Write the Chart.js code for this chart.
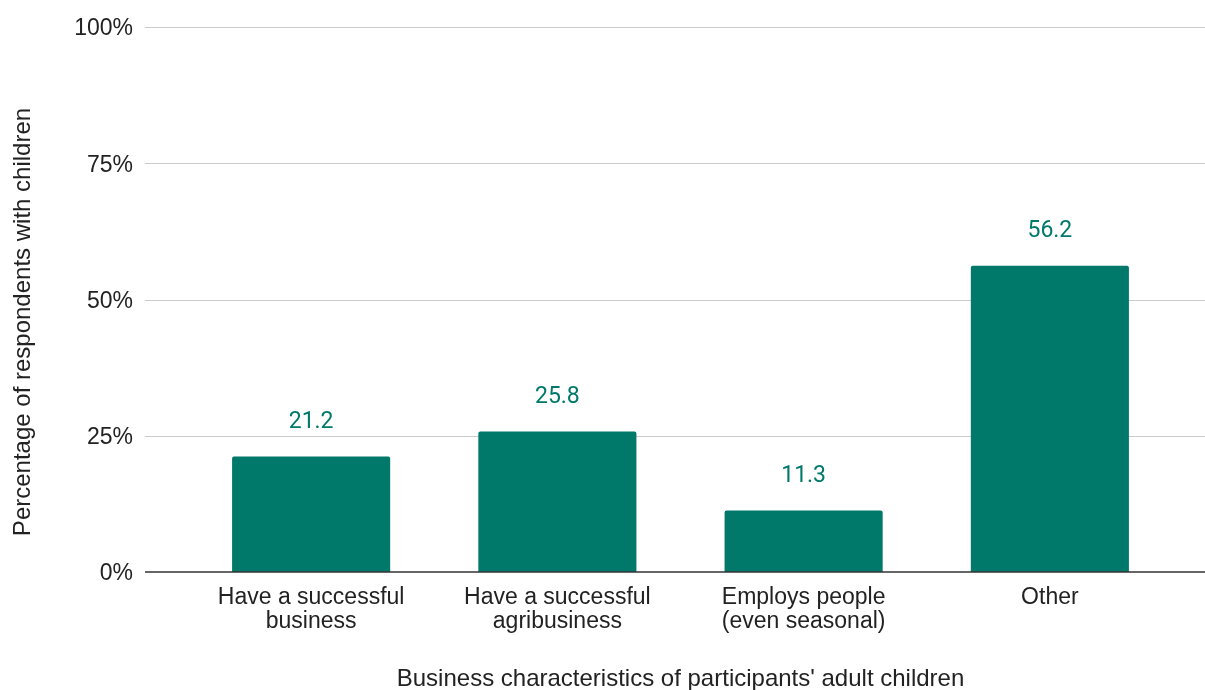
<!DOCTYPE html>
<html>
<head>
<meta charset="utf-8">
<script src="https://cdn.jsdelivr.net/npm/chart.js@4"></script>
<style>
  html, body { margin: 0; padding: 0; background: #fff; }
  canvas { display: block; }
</style>
</head>
<body>
<canvas id="chart" width="1205" height="690"></canvas>
<script>
// Business characteristics of respondents' adult children (% of respondents with children)
const categories = [
  ["Have a successful", "business"],
  ["Have a successful", "agribusiness"],
  ["Employs people", "(even seasonal)"],
  ["Other"]
];
const shares = [21.2, 25.8, 11.3, 56.2];
const yTickValues = [0, 25, 50, 75, 100];
const yAxisTitle = "Percentage of respondents with children";
const xAxisTitle = "Business characteristics of participants' adult children";

const TEAL = "#00796B";
const TEXT = "#222222";
const SANS = "'Liberation Sans', Arial, sans-serif";
const GRID_LEFT = 145;

// Horizontal gridlines spanning the full plot width, plus the darker baseline
const gridPlugin = {
  id: "wideGrid",
  beforeDatasetsDraw(chart) {
    const { ctx, scales: { y } } = chart;
    ctx.save();
    ctx.strokeStyle = "#cccccc";
    ctx.lineWidth = 1;
    yTickValues.forEach(v => {
      if (v === 0) return;
      const py = Math.round(y.getPixelForValue(v)) + 0.5;
      ctx.beginPath();
      ctx.moveTo(GRID_LEFT, py);
      ctx.lineTo(chart.width, py);
      ctx.stroke();
    });
    ctx.restore();
  },
  afterDatasetsDraw(chart) {
    const { ctx, scales: { y } } = chart;
    const py = y.getPixelForValue(0);
    ctx.save();
    ctx.strokeStyle = "#333333";
    ctx.lineWidth = 1.5;
    ctx.beginPath();
    ctx.moveTo(GRID_LEFT, py);
    ctx.lineTo(chart.width, py);
    ctx.stroke();
    ctx.restore();
  }
};

// Vertical axis title, centred a little below the middle of the plot
const yTitlePlugin = {
  id: "yTitle",
  afterDraw(chart) {
    const { ctx } = chart;
    ctx.save();
    ctx.translate(23, 322);
    ctx.rotate(-Math.PI / 2);
    ctx.fillStyle = TEXT;
    ctx.font = "24px " + SANS;
    ctx.textAlign = "center";
    ctx.textBaseline = "middle";
    ctx.fillText(yAxisTitle, 0, 0);
    ctx.restore();
  }
};

// Value labels above each bar
const valueLabels = {
  id: "valueLabels",
  afterDatasetsDraw(chart) {
    const { ctx } = chart;
    const meta = chart.getDatasetMeta(0);
    ctx.save();
    ctx.fillStyle = TEAL;
    ctx.font = "23px Roboto";
    ctx.textAlign = "center";
    ctx.textBaseline = "middle";
    meta.data.forEach((bar, i) => {
      ctx.fillText(shares[i].toFixed(1), bar.x, bar.y - 34);
    });
    ctx.restore();
  }
};

new Chart(document.getElementById("chart"), {
  type: "bar",
  data: {
    labels: categories,
    datasets: [{
      data: shares,
      backgroundColor: TEAL,
      borderRadius: { topLeft: 2, topRight: 2, bottomLeft: 0, bottomRight: 0 },
      borderSkipped: "start",
      categoryPercentage: 1,
      barPercentage: 0.642
    }]
  },
  options: {
    responsive: false,
    animation: false,
    layout: { padding: { top: 27, right: 32, bottom: 0, left: 0 } },
    plugins: {
      legend: { display: false },
      tooltip: { enabled: false }
    },
    scales: {
      x: {
        grid: { display: false, drawTicks: false },
        border: { display: false },
        ticks: {
          color: TEXT,
          font: { family: SANS, size: 23, lineHeight: 1.03 },
          padding: 14,
          maxRotation: 0,
          autoSkip: false
        },
        title: {
          display: true,
          text: xAxisTitle,
          color: TEXT,
          font: { family: SANS, size: 24, lineHeight: 1 },
          padding: { top: 0, bottom: -1 }
        },
        afterFit(scale) { scale.height = 118; }
      },
      y: {
        min: 0,
        max: 100,
        afterBuildTicks(scale) { scale.ticks = yTickValues.map(v => ({ value: v })); },
        grid: { display: false, drawTicks: false },
        border: { display: false },
        ticks: {
          color: TEXT,
          font: { family: SANS, size: 23 },
          padding: 55,
          labelOffset: 2,
          callback: v => v + "%"
        },
        title: { display: false },
        afterFit(scale) {
          scale.width = 188;
          scale.paddingTop = 12;
          scale.paddingBottom = 12;
        }
      }
    }
  },
  plugins: [gridPlugin, valueLabels, yTitlePlugin]
});
</script>
</body>
</html>
